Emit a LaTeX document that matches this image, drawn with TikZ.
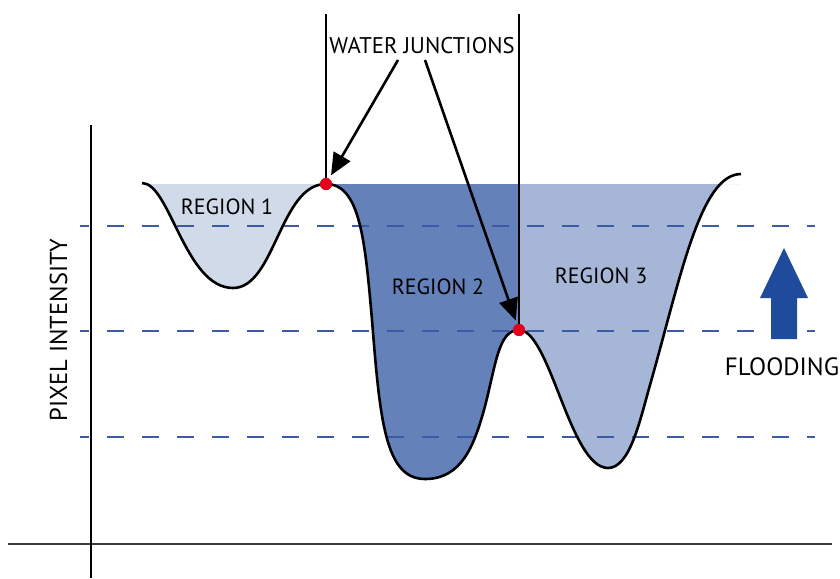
\documentclass[tikz,border=0pt]{standalone}
\usepackage{fontspec}
\setmainfont{PT Sans}
\usetikzlibrary{arrows.meta}
\definecolor{regA}{RGB}{209,218,233}
\definecolor{regB}{RGB}{100,129,185}
\definecolor{regC}{RGB}{165,182,215}
\definecolor{dashblue}{RGB}{60,90,165}
\definecolor{floodblue}{RGB}{30,75,155}
\definecolor{junred}{RGB}{227,0,27}
\definecolor{axisgrey}{RGB}{60,60,60}
\begin{document}
\begin{tikzpicture}[x=1pt,y=-1pt,
  lbl/.style={font=\fontsize{22}{26}\selectfont, inner sep=0pt, anchor=base},
  levelline/.style={dashblue, line width=1.2pt, dash pattern=on 17pt off 18pt, dash phase=8pt},
  basin/.style={line width=2.6pt, line join=round},
  wall/.style={line width=2.2pt},
  pointer/.style={line width=2.6pt, -{Triangle[length=22pt,width=19pt]}, shorten >=4pt},
  jdot/.style={circle, fill=junred, minimum size=12pt, inner sep=0pt, outer sep=0pt}]
\useasboundingbox (0,0) rectangle (840,578);
% fills
\begin{scope}
\clip (0,184) rectangle (840,578);
\fill[regA] (142,183) .. controls (170,183) and (185,288) .. (233,288)
  .. controls (275,288) and (280,184) .. (326,184) -- cycle;
\fill[regB] (326,184) .. controls (360,184) and (365,240) .. (372,320)
  .. controls (380,420) and (385,479) .. (425,479)
  .. controls (462,479) and (474,445) .. (484,410)
  .. controls (496,365) and (498,330) .. (519,330) -- (519,184) -- cycle;
\fill[regC] (519,330) .. controls (550,330) and (570,468) .. (608,468)
  .. controls (630,468) and (640,420) .. (650,385)
  .. controls (680,280) and (700,174) .. (741,174) -- (741,184) -- (519,184) -- cycle;
\end{scope}
% axes
\draw[axisgrey, line width=1.8pt] (8,544) -- (832,544);
\draw[black, line width=1.3pt] (91,125) -- (91,578);
% level lines
\draw[levelline] (80,226) -- (815,226);
\draw[levelline] (80,331) -- (815,331);
\draw[levelline] (80,437) -- (815,437);
% basin profile
\draw[basin] (142,183) .. controls (170,183) and (185,288) .. (233,288)
  .. controls (275,288) and (280,184) .. (326,184)
  .. controls (360,184) and (365,240) .. (372,320)
  .. controls (380,420) and (385,479) .. (425,479)
  .. controls (462,479) and (474,445) .. (484,410)
  .. controls (496,365) and (498,330) .. (519,330)
  .. controls (550,330) and (570,468) .. (608,468)
  .. controls (630,468) and (640,420) .. (650,385)
  .. controls (680,280) and (700,174) .. (741,174);
% junctions
\node[jdot] (j1) at (326,184) {};
\node[jdot] (j2) at (519,330) {};
\coordinate (t1) at (326,14);
\coordinate (t2) at (519,14);
\draw[wall] (t1) -- (j1.center);
\draw[wall] (t2) -- (j2.center);
\node[jdot] at (326,184) {};
\node[jdot] at (519,330) {};
% labels
\node[lbl, font=\fontsize{22.7}{26}\selectfont] (wj) at (422,53) {WATER JUNCTIONS};
\coordinate (s1) at (398,60);
\coordinate (s2) at (425,60);
\draw[pointer] (s1) -- (j1);
\draw[pointer] (s2) -- (j2);
\node[lbl] (r1) at (227,214) {REGION 1};
\node[lbl] (r2) at (438,294) {REGION 2};
\node[lbl] (r3) at (601,283) {REGION 3};
\node[lbl, rotate=90, font=\fontsize{24.5}{28}\selectfont] (pi) at (67,330) {PIXEL INTENSITY};
\node[lbl, font=\fontsize{25}{29}\selectfont] (fl) at (782,375) {FLOODING};
% flooding arrow
\fill[floodblue] (771,339) -- (771,298) -- (760,298) -- (784,248) -- (808,298)
  -- (797,298) -- (797,339) -- cycle;
\end{tikzpicture}
\end{document}
